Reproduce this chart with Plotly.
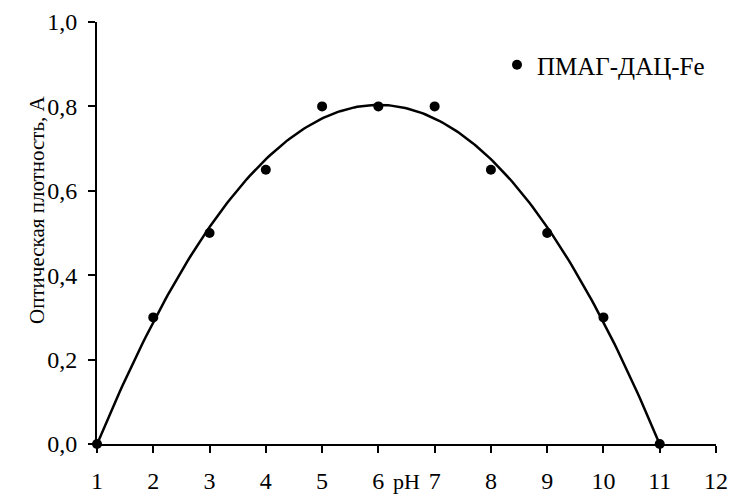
import numpy as np
import plotly.graph_objects as go

ph = [1, 2, 3, 4, 5, 6, 7, 8, 9, 10, 11]
absorb = [0.0, 0.3, 0.5, 0.65, 0.8, 0.8, 0.8, 0.65, 0.5, 0.3, 0.0]
series_name = "ПМАГ-ДАЦ-Fe"
x_ticks = list(range(1, 13))
y_ticks = [0.0, 0.2, 0.4, 0.6, 0.8, 1.0]

# polynomial (2nd order) trendline fitted to the data
coef = np.polyfit(ph, absorb, 2)
xf = np.linspace(min(ph), max(ph), 200)
yf = np.polyval(coef, xf)

font = "Liberation Serif"
L, R, T, B, W, H = 97, 15, 22, 53, 731, 497
plot_w = W - L - R
plot_h = H - T - B


def px_to_paper(px, py):
    return (px - L) / plot_w, (H - B - py) / plot_h


fig = go.Figure()
fig.add_trace(go.Scatter(x=xf, y=yf, mode="lines", line=dict(color="black", width=2.5),
                         showlegend=False, hoverinfo="skip"))
fig.add_trace(go.Scatter(x=ph, y=absorb, mode="markers", name=series_name,
                         marker=dict(color="black", size=10), cliponaxis=False))

lx, ly = px_to_paper(497, 65)
fig.update_layout(
    width=W, height=H,
    margin=dict(l=L, r=R, t=T, b=B, autoexpand=False),
    paper_bgcolor="white", plot_bgcolor="white",
    separators=", ",
    font=dict(family=font, size=24, color="black"),
    legend=dict(x=lx, y=ly, xanchor="left", yanchor="middle",
                bgcolor="rgba(0,0,0,0)", font=dict(size=25, family=font, color="black"),
                itemwidth=30, tracegroupgap=0),
    xaxis=dict(range=[1, 12], tickvals=x_ticks, showgrid=False, zeroline=False,
               showline=True, linecolor="black", linewidth=2, automargin=False,
               ticks="outside", ticklen=7, tickwidth=2, tickcolor="black",
               ticklabelstandoff=7,
               tickfont=dict(size=24, family=font, color="black")),
    yaxis=dict(range=[0, 1.0], tickvals=y_ticks, tickformat=".1f", showgrid=False,
               zeroline=False, showline=True, linecolor="black", linewidth=2,
               automargin=False,
               ticks="outside", ticklen=7, tickwidth=2, tickcolor="black",
               ticklabelstandoff=6,
               tickfont=dict(size=24, family=font, color="black")),
)
tx, ty = px_to_paper(23, 210)
fig.add_annotation(text="Оптическая плотность, А", textangle=-90, x=tx, xref="paper",
                   y=ty, yref="paper", showarrow=False,
                   font=dict(size=21, family=font, color="black"))
_, py = px_to_paper(0, 482)
fig.add_annotation(text="pH", x=6.5, y=py, xref="x", yref="paper",
                   showarrow=False, font=dict(size=22, family=font, color="black"),
                   yanchor="middle")

fig.write_html("out.html")
